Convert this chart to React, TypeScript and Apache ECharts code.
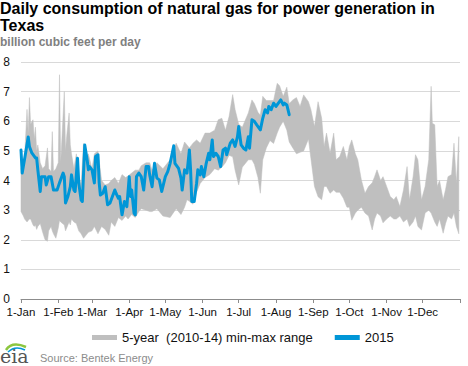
import React, { useEffect, useRef } from "react";
import * as echarts from "echarts";

const monthStarts = [0, 31, 59, 90, 120, 151, 181, 212, 243, 273, 304, 334];
const monthLabels = ["1-Jan", "1-Feb", "1-Mar", "1-Apr", "1-May", "1-Jun", "1-Jul", "1-Aug", "1-Sep", "1-Oct", "1-Nov", "1-Dec"];
const yTicks = [0, 1, 2, 3, 4, 5, 6, 7, 8];

const RANGE_NAME = "5-year  (2010-14) min-max range";
const LINE_NAME = "2015";

// day of year for band samples
const bandDays = [
  0, 2, 3, 5, 6, 7, 8, 10, 11, 12,
  13, 14, 16, 18, 20, 22, 23, 25, 26, 27,
  29, 31, 32, 33, 36, 37, 38, 40, 41, 42,
  44, 46, 48, 50, 52, 54, 56, 59, 61, 64,
  67, 70, 73, 75, 78, 81, 84, 87, 89, 92,
  95, 98, 100, 104, 107, 109, 113, 118, 124, 129,
  133, 136, 138, 140, 143, 146, 149, 153, 157, 161,
  164, 167, 170, 173, 176, 178, 181, 184, 189, 192,
  194, 197, 199, 201, 204, 207, 210, 213, 215, 218,
  221, 223, 226, 229, 232, 235, 239, 241, 244, 247,
  250, 252, 254, 257, 260, 262, 265, 268, 271, 273,
  275, 278, 280, 283, 286, 289, 292, 294, 296, 299,
  301, 304, 307, 310, 312, 315, 318, 321, 323, 326,
  328, 330, 333, 336, 339, 341, 342, 344, 346, 348,
  351, 353, 355, 358, 360, 362, 364,
];

const bandMax = [
  4.4, 4.6, 4.8, 6.4, 5.6, 6.8, 5.9, 6.05, 5.4, 5.8,
  5.0, 5.2, 4.6, 4.4, 4.5, 5.1, 4.4, 4.3, 5.65, 4.3,
  4.4, 4.6, 7.57, 4.6, 7.0, 5.0, 5.5, 6.28, 5.2, 4.9,
  4.4, 4.9, 4.1, 3.9, 5.25, 4.6, 4.9, 4.4, 4.9, 5.0,
  4.0, 3.85, 3.9, 4.0, 4.1, 3.9, 4.2, 4.1, 4.15, 4.25,
  4.35, 4.35, 4.5, 4.6, 4.6, 4.35, 4.6, 4.4, 4.7, 5.26,
  4.9, 5.3, 5.2, 5.1, 5.26, 5.37, 5.26, 5.6, 5.6, 5.7,
  6.05, 6.1, 5.7, 6.16, 6.9, 6.4, 5.9, 5.8, 6.28, 6.72,
  6.6, 6.3, 6.2, 6.84, 6.7, 6.7, 6.7, 7.28, 7.2, 6.84,
  7.15, 6.6, 6.72, 6.8, 6.5, 6.89, 6.66, 6.4, 5.82, 6.66,
  6.1, 5.15, 5.6, 4.92, 5.6, 4.7, 4.81, 5.15, 4.7, 5.15,
  5.37, 4.9, 4.7, 4.02, 3.57, 3.8, 3.92, 4.13, 4.36, 4.0,
  4.13, 3.8, 3.46, 3.35, 3.46, 3.12, 3.68, 4.47, 3.35, 4.13,
  4.87, 4.7, 3.35, 3.8, 4.7, 7.18, 5.93, 5.88, 3.8, 4.0,
  3.35, 3.7, 4.13, 4.2, 5.26, 3.9, 5.48,
];

const bandMin = [
  2.95, 2.8, 2.7, 2.6, 2.65, 2.7, 2.7, 2.5, 2.45, 2.5,
  2.35, 2.45, 2.55, 2.25, 2.0, 1.95, 2.3, 2.45, 2.3, 2.2,
  2.05, 2.4, 2.65, 2.6, 2.5, 2.3, 2.4, 2.6, 2.5, 2.7,
  2.6, 2.55, 2.3, 2.2, 2.05, 2.15, 2.25, 2.3, 2.45, 2.2,
  2.45, 2.35, 2.15, 2.6, 2.45, 2.75, 2.65, 2.8, 2.7, 2.85,
  2.75, 2.95, 3.05, 3.0, 2.95, 2.95, 3.05, 2.8, 2.75, 3.05,
  2.85, 3.1, 3.35, 3.3, 3.2, 3.6, 3.9, 4.1, 4.2, 4.4,
  4.35, 4.45, 4.6, 4.85, 4.8, 4.35, 3.85, 4.45, 4.7, 4.7,
  4.55, 4.1, 3.57, 4.7, 5.1, 5.35, 5.25, 5.6, 5.8, 6.0,
  5.7, 5.3, 5.1, 4.9, 4.95, 5.0, 5.4, 4.75, 3.8, 3.45,
  3.35, 3.8, 3.8, 3.57, 3.68, 3.6, 3.6, 3.4, 3.1, 3.1,
  2.66, 2.9, 3.0, 3.1, 2.9, 2.8, 2.33, 2.7, 2.9, 2.8,
  2.57, 2.7, 2.8, 2.7, 2.7, 2.8, 2.6, 2.7, 2.45, 2.6,
  2.8, 2.45, 2.33, 2.9, 3.0, 2.9, 2.8, 2.6, 2.45, 2.7,
  2.22, 2.55, 2.8, 2.7, 2.9, 2.45, 2.2,
];

const lineDays = [
  0, 1, 4, 6, 7, 9, 12, 13, 14, 16,
  17, 20, 21, 23, 25, 27, 30, 32, 35, 36,
  37, 39, 41, 42, 44, 45, 47, 48, 50, 51,
  53, 55, 56, 57, 59, 61, 62, 64, 65, 66,
  68, 70, 72, 74, 76, 78, 79, 81, 82, 84,
  86, 88, 90, 91, 92, 94, 95, 96, 98, 100,
  102, 104, 106, 107, 109, 111, 113, 115, 117, 120,
  122, 124, 127, 128, 131, 133, 134, 136, 138, 140,
  141, 142, 144, 146, 147, 149, 150, 152, 154, 156,
  157, 159, 160, 162, 164, 166, 168, 170, 171, 174,
  176, 178, 180, 181, 183, 185, 187, 189, 190, 192,
  194, 196, 199, 201, 203, 205, 206, 208, 210, 212,
  214, 216, 218, 219, 221, 223,
];

const lineValues = [
  5.03, 4.25, 4.97, 5.47, 5.15, 4.93, 4.76, 4.76, 4.36, 3.63,
  4.13, 4.13, 3.85, 4.13, 4.13, 3.68, 3.68, 3.92, 4.25, 4.13,
  3.24, 3.46, 3.79, 4.19, 3.68, 3.63, 4.75, 3.92, 3.34, 3.29,
  5.2, 4.7, 4.36, 4.47, 4.36, 3.92, 4.81, 4.87, 3.92, 3.51,
  3.57, 3.79, 3.18, 3.24, 3.46, 3.68, 3.57, 3.4, 3.46, 2.84,
  3.29, 3.12, 4.13, 3.46, 3.68, 2.9, 2.84, 4.13, 4.25, 4.13,
  3.68, 4.47, 4.47, 4.19, 3.79, 4.58, 4.08, 4.02, 3.63, 4.13,
  4.3, 4.58, 5.17, 4.58, 4.41, 4.08, 3.68, 4.36, 4.25, 5.03,
  4.36, 3.29, 3.29, 3.91, 4.36, 4.19, 4.47, 4.13, 4.58, 4.92,
  4.7, 5.37, 4.81, 4.92, 4.81, 4.47, 5.03, 5.09, 4.87, 5.26,
  5.37, 5.15, 5.48, 5.82, 5.2, 5.09, 5.03, 5.48, 5.09, 6.05,
  6.0, 5.88, 5.71, 6.1, 6.39, 6.28, 6.5, 6.39, 6.61, 6.5,
  6.61, 6.72, 6.55, 6.61, 6.55, 6.22,
];

const FONT = "'Liberation Sans', Arial, sans-serif";
const BAND_COLOR = "#bfbfbf";
const LINE_COLOR = "#0096d7";

export default function App() {
  const ref = useRef<HTMLDivElement>(null);

  useEffect(() => {
    if (!ref.current) return;
    const chart = echarts.init(ref.current, null, { renderer: "svg" });
    const bandData = bandDays.map((d, i) => [d, bandMin[i], bandMax[i]]);
    const lineData = lineDays.map((d, i) => [d, lineValues[i]]);

    chart.setOption({
      animation: false,
      backgroundColor: "#ffffff",
      textStyle: { fontFamily: FONT },
      title: [
        {
          text: "Daily consumption of natural gas for power generation in\nTexas",
          left: 0,
          top: 0,
          padding: 0,
          textStyle: { fontSize: 16, fontWeight: "bold", color: "#000000", lineHeight: 17, fontFamily: FONT },
        },
        {
          text: "billion cubic feet per day",
          left: 0,
          top: 36,
          padding: 0,
          textStyle: { fontSize: 12, fontWeight: "bold", color: "#808080", fontFamily: FONT },
        },
      ],
      legend: {
        left: 87,
        top: 326,
        itemGap: 22,
        itemWidth: 25,
        itemHeight: 5,
        textStyle: { fontSize: 13, color: "#111111", fontFamily: FONT },
        data: [
          { name: RANGE_NAME, icon: "rect", itemStyle: { color: BAND_COLOR } },
          { name: LINE_NAME, icon: "rect", itemStyle: { color: LINE_COLOR } },
        ],
      },
      grid: { left: 21, right: 8, top: 62, bottom: 67, containLabel: false },
      xAxis: {
        type: "value",
        min: 0,
        max: 365,
        splitLine: { show: false },
        axisLine: { show: true, lineStyle: { color: "#8c8c8c", width: 1 } },
        axisTick: {
          show: true,
          length: 4,
          lineStyle: { color: "#8c8c8c" },
          customValues: [...monthStarts, 365],
        },
        axisLabel: {
          customValues: monthStarts,
          margin: 7,
          fontSize: 11.5,
          color: "#111111",
          fontFamily: FONT,
          formatter: (v: number) => {
            const i = monthStarts.indexOf(v);
            return i >= 0 ? monthLabels[i] : "";
          },
        },
      },
      yAxis: {
        type: "value",
        min: yTicks[0],
        max: yTicks[yTicks.length - 1],
        interval: 1,
        axisLine: { show: false },
        axisTick: { show: false },
        splitLine: { show: true, lineStyle: { color: "#d9d9d9", width: 1 } },
        axisLabel: { margin: 11, fontSize: 12, color: "#111111", fontFamily: FONT },
      },
      series: [
        {
          name: RANGE_NAME,
          type: "custom",
          data: bandData,
          encode: { x: 0, y: [1, 2] },
          itemStyle: { color: BAND_COLOR },
          silent: true,
          z: 1,
          renderItem: (params: any, api: any) => {
            if (params.dataIndex !== 0) return null;
            const upper = bandDays.map((d, i) => api.coord([d, bandMax[i]]));
            const lower = bandDays.map((d, i) => api.coord([d, bandMin[i]])).reverse();
            return {
              type: "polygon",
              shape: { points: upper.concat(lower) },
              style: { fill: BAND_COLOR, stroke: BAND_COLOR, lineWidth: 0.5 },
            };
          },
        },
        {
          name: LINE_NAME,
          type: "line",
          data: lineData,
          symbol: "none",
          itemStyle: { color: LINE_COLOR },
          lineStyle: { color: LINE_COLOR, width: 3, join: "round", cap: "round" },
          z: 3,
        },
      ],
      graphic: [
        {
          type: "bezierCurve",
          shape: { x1: 6, y1: 350, cpx1: 12, cpy1: 341, x2: 26, y2: 347 },
          style: { stroke: "#8cc63f", lineWidth: 2.5, fill: "none" },
        },
        {
          type: "bezierCurve",
          shape: { x1: 8, y1: 352, cpx1: 15, cpy1: 345, x2: 25, y2: 350 },
          style: { stroke: "#0096d7", lineWidth: 1.5, fill: "none" },
        },
        {
          type: "text",
          left: 0,
          top: 346,
          style: { text: "eia", fontSize: 19, fontFamily: "'DejaVu Serif', serif", fill: "#555555" },
        },
        {
          type: "text",
          left: 40,
          top: 352,
          style: { text: "Source: Bentek Energy", fontSize: 11, fontFamily: FONT, fill: "#8c8c8c" },
        },
      ],
    });
    return () => chart.dispose();
  }, []);

  return (
    <div
      ref={ref}
      style={{ position: "absolute", left: 0, top: 0, width: 468, height: 366, background: "#fff" }}
    />
  );
}
